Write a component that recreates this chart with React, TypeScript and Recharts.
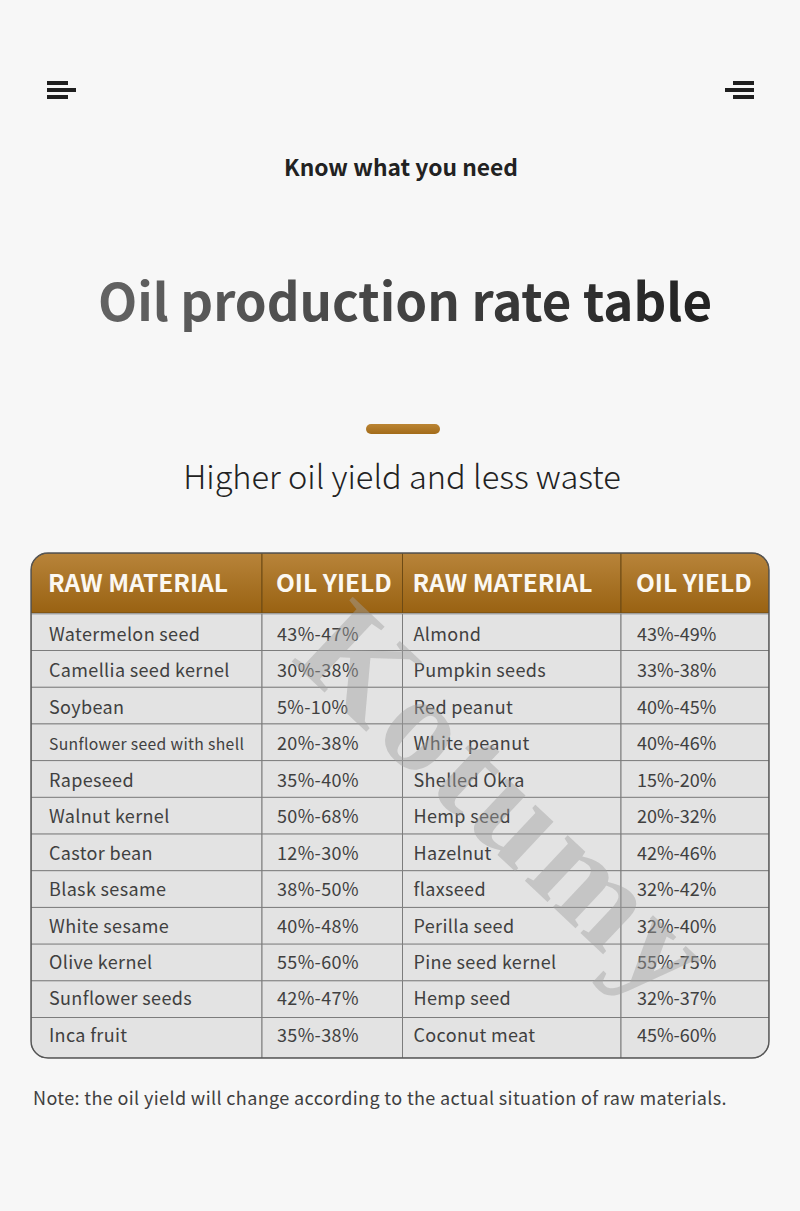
import { BarChart, Bar, XAxis, YAxis, LabelList, Rectangle } from "recharts";

const headerLabels = ["RAW MATERIAL", "OIL YIELD", "RAW MATERIAL", "OIL YIELD"];
const leftMaterials = ["Watermelon seed", "Camellia seed kernel", "Soybean", "Sunflower seed with shell", "Rapeseed", "Walnut kernel", "Castor bean", "Blask sesame", "White sesame", "Olive kernel", "Sunflower seeds", "Inca fruit"];
const leftYields = ["43%-47%", "30%-38%", "5%-10%", "20%-38%", "35%-40%", "50%-68%", "12%-30%", "38%-50%", "40%-48%", "55%-60%", "42%-47%", "35%-38%"];
const rightMaterials = ["Almond", "Pumpkin seeds", "Red peanut", "White peanut", "Shelled Okra", "Hemp seed", "Hazelnut", "flaxseed", "Perilla seed", "Pine seed kernel", "Hemp seed", "Coconut meat"];
const rightYields = ["43%-49%", "33%-38%", "40%-45%", "40%-46%", "15%-20%", "20%-32%", "42%-46%", "32%-42%", "32%-40%", "55%-75%", "32%-37%", "45%-60%"];

const columnWidths = [231, 140.5, 218.5, 148];
const textOffsets = [18, 15, 11, 16];
const tableWidth = 738;
const rowExtra = 3.8;
const corner = 17;
const font = "'Noto Sans CJK SC', 'Noto Sans', sans-serif";

const widths = { c0: columnWidths[0], c1: columnWidths[1], c2: columnWidths[2], c3: columnWidths[3] };
const headerData = [{ row: "header", t0: headerLabels[0], t1: headerLabels[1], t2: headerLabels[2], t3: headerLabels[3], ...widths }];
const bodyData = leftMaterials.map((name, i) => ({
  row: name + i,
  t0: name,
  t1: leftYields[i],
  t2: rightMaterials[i],
  t3: rightYields[i],
  ...widths,
}));

const colKeys = [0, 1, 2, 3];

function bodyCell(col: number) {
  return (props: any) => {
    const last = props.index === bodyData.length - 1;
    const radius = last && col === 0 ? [0, 0, 0, corner] : last && col === 3 ? [0, 0, corner, 0] : 0;
    return (
      <Rectangle
        x={props.x}
        y={props.y}
        width={props.width}
        height={props.height + (last ? rowExtra : 0)}
        radius={radius as any}
        fill="#e3e3e3"
        stroke="#7c7c7c"
        strokeWidth={1}
      />
    );
  };
}

function headerCell(col: number) {
  return (props: any) => {
    const radius = col === 0 ? [corner, 0, 0, 0] : col === 3 ? [0, corner, 0, 0] : 0;
    return (
      <Rectangle
        x={props.x}
        y={props.y}
        width={props.width}
        height={props.height}
        radius={radius as any}
        fill="url(#headGrad)"
        stroke="#6d4a14"
        strokeWidth={1}
      />
    );
  };
}

function bodyLabel(col: number) {
  return (props: any) => {
    const value = String(props.value);
    return (
      <text
        x={props.x + textOffsets[col]}
        y={props.y + props.height / 2 + 8.6 - props.index * 0.25}
        fill="#404040"
        fontFamily={font}
        fontSize={value.length > 22 ? 15.7 : 18}
        letterSpacing={col === 3 ? 0 : 0.35}
      >
        {value}
      </text>
    );
  };
}

function headerLabel(col: number) {
  return (props: any) => (
    <text
      x={props.x + textOffsets[col] - 1}
      y={props.y + props.height / 2 + 9}
      fill="#fbf8f2"
      fontFamily={font}
      fontWeight={700}
      fontSize={24.5}
    >
      {props.value}
    </text>
  );
}

function HeaderChart() {
  return (
    <BarChart layout="vertical" width={tableWidth} height={60} data={headerData} margin={{ top: 0, right: 0, bottom: 0, left: 0 }} barCategoryGap={0}>
      <defs>
        <linearGradient id="headGrad" x1="0" y1="0" x2="0" y2="1">
          <stop offset="0%" stopColor="#b8843a" />
          <stop offset="100%" stopColor="#996212" />
        </linearGradient>
      </defs>
      <XAxis type="number" domain={[0, tableWidth]} hide />
      <YAxis type="category" dataKey="row" hide />
      {colKeys.map((c) => (
        <Bar key={c} dataKey={`c${c}`} stackId="t" isAnimationActive={false} shape={headerCell(c)}>
          <LabelList dataKey={`t${c}`} content={headerLabel(c)} />
        </Bar>
      ))}
    </BarChart>
  );
}

function BodyChart() {
  return (
    <BarChart layout="vertical" width={tableWidth} height={445} data={bodyData} margin={{ top: 0.8, right: 0, bottom: rowExtra, left: 0 }} barCategoryGap={0}>
      <XAxis type="number" domain={[0, tableWidth]} hide />
      <YAxis type="category" dataKey="row" hide />
      {colKeys.map((c) => (
        <Bar key={c} dataKey={`c${c}`} stackId="t" isAnimationActive={false} shape={bodyCell(c)}>
          <LabelList dataKey={`t${c}`} content={bodyLabel(c)} />
        </Bar>
      ))}
    </BarChart>
  );
}

export default function App() {
  return (
    <div style={{ position: "absolute", left: 0, top: 0, width: 800, height: 1211, background: "#f7f7f7", overflow: "hidden" }}>
      <svg width={800} height={1211} style={{ position: "absolute", left: 0, top: 0 }}>
        <defs>
          <linearGradient id="titleGrad" x1="0" y1="0" x2="1" y2="0">
            <stop offset="0%" stopColor="#636363" />
            <stop offset="100%" stopColor="#222222" />
          </linearGradient>
          <linearGradient id="dashGrad" x1="0" y1="0" x2="0" y2="1">
            <stop offset="0%" stopColor="#bb8534" />
            <stop offset="100%" stopColor="#a36c1a" />
          </linearGradient>
        </defs>
        <g fill="#1f1f1f">
          <rect x={47} y={81} width={21} height={4} />
          <rect x={47} y={88} width={29} height={4} />
          <rect x={47} y={95} width={21} height={4} />
          <rect x={733} y={81} width={21} height={4} />
          <rect x={725} y={88} width={29} height={4} />
          <rect x={733} y={95} width={21} height={4} />
        </g>
        <text x={401} y={176} textAnchor="middle" fontFamily={font} fontWeight={700} fontSize={22.8} fill="#222">Know what you need</text>
        <text x={405} y={321} textAnchor="middle" fontFamily={font} fontWeight={700} fontSize={51} fill="url(#titleGrad)">Oil production rate table</text>
        <rect x={366} y={424} width={74} height={10} rx={5} fill="url(#dashGrad)" />
        <text x={402} y={488.5} textAnchor="middle" fontFamily={font} fontWeight={300} fontSize={32.6} fill="#222">Higher oil yield and less waste</text>
        <text x={33} y={1104.5} fontFamily={font} fontSize={18} fill="#404040" letterSpacing={0.37}>Note: the oil yield will change according to the actual situation of raw materials.</text>
      </svg>
      <div style={{ position: "absolute", left: 31, top: 553 }}>
        <HeaderChart />
      </div>
      <div style={{ position: "absolute", left: 31, top: 613 }}>
        <BodyChart />
      </div>
      <svg width={800} height={1211} style={{ position: "absolute", left: 0, top: 0, pointerEvents: "none" }}>
        <rect x={31} y={553} width={738} height={505} rx={corner} fill="none" stroke="#555" strokeWidth={1.4} />
        <text transform="translate(290 660) rotate(43.2)" fontFamily="'Liberation Serif', serif" fontWeight={700} fontSize={136} letterSpacing={6} fill="#a0a0a0" fillOpacity={0.45}>Kotumy</text>
      </svg>
    </div>
  );
}
